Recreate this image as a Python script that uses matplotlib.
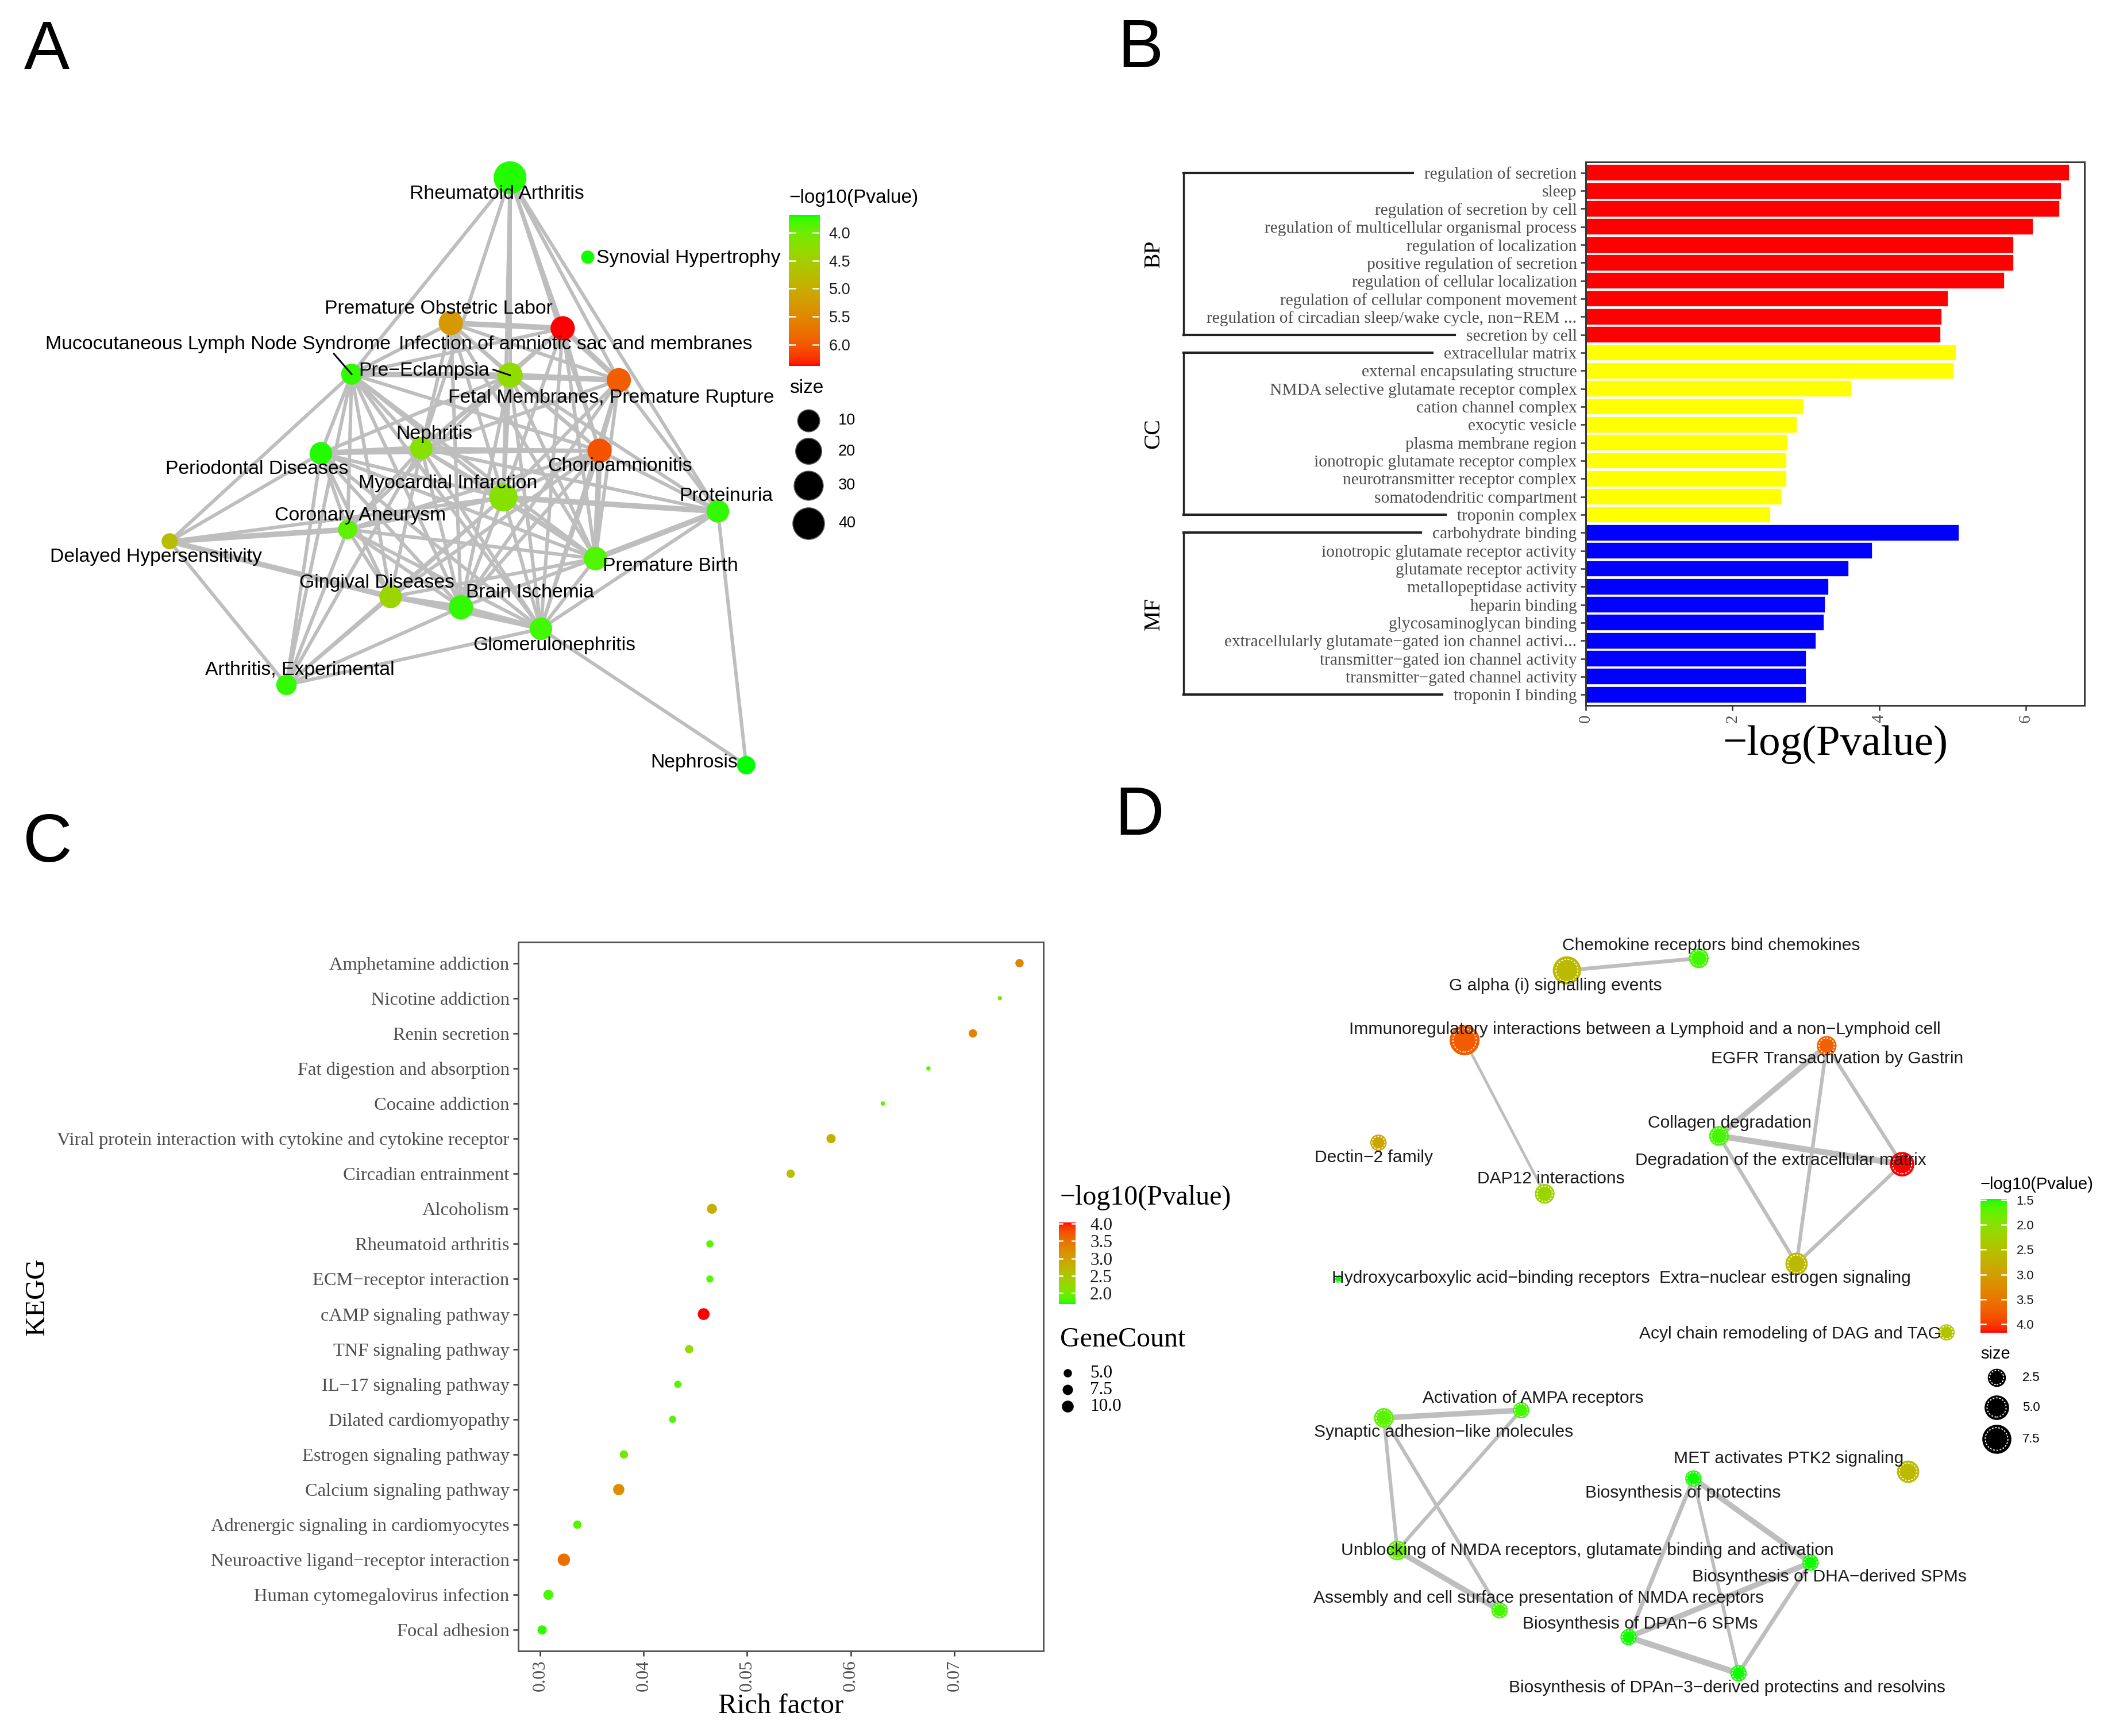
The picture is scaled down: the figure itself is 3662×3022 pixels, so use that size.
import numpy as np
import matplotlib
matplotlib.use("Agg")
import matplotlib.pyplot as plt
from matplotlib.colors import ListedColormap
from matplotlib.lines import Line2D

# ---------------------------------------------------------------- data
# Panel A : disease network
A_nodes = ["Rheumatoid Arthritis", "Synovial Hypertrophy", "Premature Obstetric Labor",
           "Infection of amniotic sac and membranes", "Mucocutaneous Lymph Node Syndrome",
           "Pre\u2212Eclampsia", "Fetal Membranes, Premature Rupture", "Periodontal Diseases",
           "Nephritis", "Chorioamnionitis", "Myocardial Infarction", "Proteinuria",
           "Coronary Aneurysm", "Delayed Hypersensitivity", "Premature Birth",
           "Gingival Diseases", "Brain Ischemia", "Glomerulonephritis",
           "Arthritis, Experimental", "Nephrosis"]
A_x = [378.9, 436.6, 334.9, 418.0, 261.2, 378.9, 459.7, 238.4, 313.0, 445.4,
       374.0, 533.3, 258.2, 126.0, 442.4, 290.2, 342.4, 401.8, 212.8, 554.3]
A_y = [132.0, 191.0, 240.0, 243.9, 278.0, 278.8, 282.5, 336.8, 333.0, 334.9,
       369.5, 379.9, 393.4, 402.2, 415.0, 443.5, 451.2, 467.2, 508.9, 568.5]
A_label_x = [369, 511.5, 326, 427.6, 161.8, 315, 454, 191, 322.5, 460.4,
             332.6, 539.3, 267.6, 115.9, 498, 280, 393.9, 411.6, 222.6, 515.6]
A_label_y = [144.2, 192, 229.4, 256, 256, 275.5, 295.4, 348.4, 322.3, 346.4,
             359, 368.4, 383, 414, 420.7, 433, 440.2, 479.5, 497.9, 566.8]
A_logp = [3.72, 3.70, 5.30, 6.38, 3.75, 4.30, 5.95, 3.72, 4.20, 6.05,
          4.20, 3.75, 3.92, 4.75, 3.85, 4.40, 3.75, 3.80, 3.75, 3.69]
A_size = [45, 1, 15, 15, 8, 18, 15, 11, 11, 15, 27, 11, 5, 2, 13, 11, 15, 11, 7, 4]
A_edges = [  # (i, j, weight)
    (0, 4, 1), (0, 8, 1), (0, 5, 1), (0, 10, 1), (0, 3, 1), (0, 6, 1), (0, 9, 1), (0, 11, 1),
    (2, 3, 2), (2, 5, 1), (2, 6, 1), (2, 4, 1), (2, 8, 1), (2, 9, 1), (2, 10, 1), (2, 14, 1), (2, 16, 1),
    (3, 6, 2), (3, 9, 1), (3, 5, 1), (3, 8, 1), (3, 10, 1), (3, 14, 1), (3, 4, 1), (3, 17, 1),
    (4, 5, 2), (4, 7, 1), (4, 12, 1), (4, 8, 1), (4, 10, 1), (4, 13, 1), (4, 18, 1), (4, 15, 1),
    (4, 16, 1), (4, 17, 1), (4, 9, 1), (4, 14, 1), (4, 6, 1),
    (5, 6, 2), (5, 8, 1), (5, 9, 1), (5, 10, 1), (5, 14, 1), (5, 17, 1), (5, 7, 1), (5, 12, 1),
    (5, 16, 1), (5, 11, 1),
    (6, 9, 1), (6, 10, 1), (6, 14, 1), (6, 11, 1), (6, 8, 1), (6, 17, 1), (6, 16, 1),
    (8, 7, 2), (8, 9, 1), (8, 10, 1), (8, 12, 1), (8, 15, 1), (8, 16, 1), (8, 17, 1), (8, 14, 1),
    (8, 11, 1), (8, 18, 1),
    (7, 12, 1), (7, 15, 1), (7, 16, 1), (7, 10, 1), (7, 13, 1), (7, 18, 1), (7, 9, 1), (7, 17, 1), (7, 14, 1),
    (9, 10, 1), (9, 14, 2), (9, 11, 1), (9, 17, 1), (9, 16, 1), (9, 12, 1), (9, 15, 1),
    (10, 12, 1), (10, 11, 2), (10, 14, 1), (10, 16, 1), (10, 17, 1), (10, 15, 1), (10, 18, 1), (10, 13, 1),
    (11, 14, 2), (11, 17, 1), (11, 19, 1),
    (12, 13, 2), (12, 15, 1), (12, 16, 1), (12, 17, 1), (12, 14, 1), (12, 18, 1),
    (13, 15, 2), (13, 18, 1),
    (14, 16, 1), (14, 17, 1), (14, 15, 1),
    (15, 16, 2), (15, 17, 1), (15, 18, 1),
    (16, 17, 2), (16, 18, 1),
    (17, 18, 1), (17, 19, 1)]
A_pointers = {4: (248.0, 262.8), 5: (366.5, 274.6)}
A_cbar_ticks = [4.0, 4.5, 5.0, 5.5, 6.0]
A_size_legend = [10, 20, 30, 40]

# Panel B : GO enrichment
B_terms = ["regulation of secretion", "sleep", "regulation of secretion by cell",
           "regulation of multicellular organismal process", "regulation of localization",
           "positive regulation of secretion", "regulation of cellular localization",
           "regulation of cellular component movement",
           "regulation of circadian sleep/wake cycle, non\u2212REM ...", "secretion by cell",
           "extracellular matrix", "external encapsulating structure",
           "NMDA selective glutamate receptor complex", "cation channel complex",
           "exocytic vesicle", "plasma membrane region", "ionotropic glutamate receptor complex",
           "neurotransmitter receptor complex", "somatodendritic compartment", "troponin complex",
           "carbohydrate binding", "ionotropic glutamate receptor activity",
           "glutamate receptor activity", "metallopeptidase activity", "heparin binding",
           "glycosaminoglycan binding", "extracellularly glutamate\u2212gated ion channel activi...",
           "transmitter\u2212gated ion channel activity", "transmitter\u2212gated channel activity",
           "troponin I binding"]
B_values = [6.60, 6.49, 6.46, 6.10, 5.84, 5.84, 5.71, 4.94, 4.86, 4.84,
            5.05, 5.02, 3.63, 2.98, 2.88, 2.76, 2.74, 2.74, 2.67, 2.52,
            5.09, 3.91, 3.59, 3.31, 3.27, 3.25, 3.14, 3.01, 3.01, 3.01]
B_group = ["BP"] * 10 + ["CC"] * 10 + ["MF"] * 10
B_group_names = ["BP", "CC", "MF"]
B_group_colors = {"BP": "#FF0000", "CC": "#FFFF00", "MF": "#0000FF"}
B_xticks = [0, 2, 4, 6]

# Panel C : KEGG dot plot
C_terms = ["Amphetamine addiction", "Nicotine addiction", "Renin secretion",
           "Fat digestion and absorption", "Cocaine addiction",
           "Viral protein interaction with cytokine and cytokine receptor",
           "Circadian entrainment", "Alcoholism", "Rheumatoid arthritis",
           "ECM\u2212receptor interaction", "cAMP signaling pathway", "TNF signaling pathway",
           "IL\u221217 signaling pathway", "Dilated cardiomyopathy", "Estrogen signaling pathway",
           "Calcium signaling pathway", "Adrenergic signaling in cardiomyocytes",
           "Neuroactive ligand\u2212receptor interaction", "Human cytomegalovirus infection",
           "Focal adhesion"]
C_rich = [0.0763, 0.0744, 0.0718, 0.0675, 0.0631, 0.0581, 0.0542, 0.0466, 0.0464, 0.0464,
          0.0458, 0.0444, 0.0433, 0.0428, 0.0381, 0.0376, 0.0336, 0.0323, 0.0308, 0.0302]
C_count = [5, 3, 5, 3, 3, 6, 5, 7, 4, 4, 10, 5, 4, 4, 5, 9, 5, 11, 7, 6]
C_logp = [3.30, 2.00, 3.30, 1.85, 1.85, 2.80, 2.60, 2.80, 1.85, 1.85,
          4.03, 2.25, 1.85, 1.85, 2.00, 3.20, 1.85, 3.50, 1.80, 1.75]
C_xticks = [0.03, 0.04, 0.05, 0.06, 0.07]
C_cbar_ticks = [2.0, 2.5, 3.0, 3.5, 4.0]
C_size_legend = [5.0, 7.5, 10.0]

# Panel D : Reactome network
D_nodes = ["G alpha (i) signalling events", "Chemokine receptors bind chemokines",
           "Immunoregulatory interactions between a Lymphoid and a non\u2212Lymphoid cell",
           "EGFR Transactivation by Gastrin", "Collagen degradation",
           "Degradation of the extracellular matrix", "Dectin\u22122 family", "DAP12 interactions",
           "Hydroxycarboxylic acid\u2212binding receptors", "Extra\u2212nuclear estrogen signaling",
           "Acyl chain remodeling of DAG and TAG", "Activation of AMPA receptors",
           "Synaptic adhesion\u2212like molecules",
           "Unblocking of NMDA receptors, glutamate binding and activation",
           "Assembly and cell surface presentation of NMDA receptors",
           "MET activates PTK2 signaling", "Biosynthesis of protectins",
           "Biosynthesis of DHA\u2212derived SPMs", "Biosynthesis of DPAn\u22126 SPMs",
           "Biosynthesis of DPAn\u22123\u2212derived protectins and resolvins"]
D_x = [1164, 1262, 1088, 1357, 1277, 1413, 1024, 1147.5, 994, 1334.6,
       1446, 1130, 1028, 1038, 1114, 1417.5, 1258, 1345, 1209.8, 1291.5]
D_y = [721, 712, 773, 777, 844, 865, 849, 887, 950, 939,
       990, 1047.8, 1053.5, 1152, 1196.5, 1093.5, 1098.5, 1161, 1216.4, 1243.3]
D_label_x = [1155.5, 1271, 1221.7, 1365, 1285, 1322.7, 1020.5, 1152, 1107.6, 1326,
             1330, 1139, 1072.6, 1179, 1143, 1328.6, 1250.3, 1359, 1218.3, 1283]
D_label_y = [732.5, 702.5, 765, 786.6, 834.4, 862, 860, 876, 949.7, 949.7,
             991, 1038.7, 1064.2, 1152, 1187.4, 1083.7, 1109.2, 1171.6, 1206.6, 1254]
D_logp = [2.60, 1.60, 3.75, 3.70, 1.60, 4.17, 2.90, 2.20, 1.48, 2.60,
          2.45, 1.60, 1.70, 1.75, 1.60, 2.60, 1.50, 1.50, 1.50, 1.50]
D_size = [7, 3, 8, 3, 3, 5, 2, 3, 1, 4, 2, 2, 3, 3, 2, 4, 2, 2, 2, 2]
D_edges = [(0, 1, 1.4), (2, 7, 1.0),
           (3, 4, 2.0), (3, 5, 1.3), (3, 9, 1.3), (4, 5, 2.2), (4, 9, 1.3), (5, 9, 1.3),
           (12, 11, 2.0), (12, 13, 1.3), (12, 14, 1.3), (11, 13, 1.3), (13, 14, 2.0),
           (16, 17, 2.0), (16, 18, 1.5), (16, 19, 1.2), (17, 18, 2.0), (17, 19, 1.5), (18, 19, 2.2)]
D_cbar_ticks = [1.5, 2.0, 2.5, 3.0, 3.5, 4.0]
D_size_legend = [2.5, 5.0, 7.5]

# ---------------------------------------------------------------- helpers
W, H, DPI = 3662, 3022, 300
S = 3662 / 1563.0          # layout unit -> pixel
LW_, LH_ = W / S, H / S

M = np.array([[0.4124564, 0.3575761, 0.1804375],
              [0.2126729, 0.7151522, 0.0721750],
              [0.0193339, 0.1191920, 0.9503041]])
WHITE = np.array([0.95047, 1.0, 1.08883])


def _lin(c):
    c = np.asarray(c, float)
    return np.where(c <= 0.04045, c / 12.92, ((c + 0.055) / 1.055) ** 2.4)


def _gam(c):
    c = np.clip(c, 0, None)
    return np.where(c <= 0.0031308, 12.92 * c, 1.055 * np.power(c, 1 / 2.4) - 0.055)


def rgb2lab(rgb):
    xyz = M @ _lin(rgb) / WHITE
    d = 6 / 29
    f = np.where(xyz > d ** 3, np.cbrt(xyz), xyz / (3 * d * d) + 4 / 29)
    return np.array([116 * f[1] - 16, 500 * (f[0] - f[1]), 200 * (f[1] - f[2])])


def lab2rgb(lab):
    L, a, b = lab
    fy = (L + 16) / 116
    f = np.array([fy + a / 500, fy, fy - b / 200])
    d = 6 / 29
    xyz = np.where(f > d, f ** 3, 3 * d * d * (f - 4 / 29)) * WHITE
    return np.clip(_gam(np.linalg.solve(M, xyz)), 0, 1)


def lab_cmap(c1, c2, n=256):
    l1, l2 = rgb2lab(c1), rgb2lab(c2)
    return ListedColormap([lab2rgb(l1 + (l2 - l1) * t) for t in np.linspace(0, 1, n)])


CMAP = lab_cmap((0, 1, 0), (1, 0, 0))


def pt2(dpx):
    return (np.asarray(dpx, float) * 72.0 / DPI) ** 2


def diam_A(s):
    return 23 + 34 * np.sqrt((np.asarray(s, float) - 1) / 44.0)


def diam_C(c):
    return 7.5 + 14 * np.sqrt((np.asarray(c, float) - 3) / 8.0)


def diam_D(s):
    return 14 + 38 * np.sqrt((np.asarray(s, float) - 1) / 7.0)


SANS = ["Liberation Sans", "DejaVu Sans"]
SERIF = ["Liberation Serif", "DejaVu Serif"]
GREY30 = "#4D4D4D"

fig = plt.figure(figsize=(W / DPI, H / DPI), dpi=DPI)

# overlay axes in layout units (used for networks, legends, letters)
ax = fig.add_axes([0, 0, 1, 1])
ax.set_xlim(0, LW_)
ax.set_ylim(LH_, 0)
ax.axis("off")


def colorbar(rect_px, vmin, vmax, ticks, invert, fs, family, pad):
    x0, y0, x1, y1 = rect_px
    cax = fig.add_axes([x0 / W, 1 - y1 / H, (x1 - x0) / W, (y1 - y0) / H])
    grad = np.linspace(vmin, vmax, 256).reshape(-1, 1)
    cax.imshow(grad, aspect="auto", cmap=CMAP, vmin=vmin, vmax=vmax,
               extent=(0, 1, vmin, vmax), origin="lower")
    cax.set_xlim(0, 1)
    cax.set_ylim((vmax, vmin) if invert else (vmin, vmax))
    for t in ticks:
        cax.plot([0, 0.2], [t, t], color="white", lw=0.6)
        cax.plot([0.8, 1], [t, t], color="white", lw=0.6)
    cax.set_xticks([])
    cax.yaxis.tick_right()
    cax.set_yticks(ticks)
    cax.set_yticklabels([f"{t:.1f}" for t in ticks], fontsize=fs, family=family, color="#1a1a1a")
    cax.tick_params(length=0, pad=pad)
    for sp in cax.spines.values():
        sp.set_visible(False)
    return cax


# ---------------------------------------------------------------- Panel A
for i, j, w in A_edges:
    ax.plot([A_x[i], A_x[j]], [A_y[i], A_y[j]], color="#BEBEBE", lw=0.6 + 0.85 * w,
            solid_capstyle="round", zorder=1)
ax.scatter(A_x, A_y, s=pt2(diam_A(A_size)), c=A_logp, cmap=CMAP, vmin=3.685, vmax=6.38,
           linewidths=0, zorder=2)
for k, (lx, ly) in A_pointers.items():
    ax.plot([lx, A_x[k]], [ly, A_y[k]], color="black", lw=0.7, zorder=3)
for name, lx, ly in zip(A_nodes, A_label_x, A_label_y):
    ax.text(lx, ly, name, ha="center", va="center", fontsize=8.1, family=SANS,
            color="black", zorder=4)

colorbar((1373, 374, 1426, 637), 3.685, 6.38, A_cbar_ticks, True, 6.5, SANS, 4)
ax.text(1373 / S, 345 / S, "\u2212log10(Pvalue)", ha="left", va="center", fontsize=8,
        family=SANS)
ax.text(1374 / S, 676 / S, "size", ha="left", va="center", fontsize=8, family=SANS)
for v, yy in zip(A_size_legend, [732, 785.5, 844.7, 910.8]):
    ax.scatter([1407 / S], [yy / S], s=pt2(diam_A(v)), color="black", edgecolors="#555555",
               linewidths=0.4, zorder=2)
    ax.text(1459 / S, yy / S, f"{v}", ha="left", va="center", fontsize=6.5, family=SANS)

# ---------------------------------------------------------------- Panel B
axB = fig.add_axes([2760 / W, 1 - 1228 / H, (3628 - 2760) / W, (1228 - 282) / H])
yB = np.arange(len(B_terms))
axB.barh(yB, B_values, height=0.92, color=[B_group_colors[g] for g in B_group],
         edgecolor="white", linewidth=0.4)
axB.set_ylim(len(B_terms) - 0.4, -0.6)
axB.set_xlim(0, 6.8)
axB.set_yticks(yB)
axB.set_yticklabels(B_terms, fontsize=7.1, family=SERIF, color=GREY30)
axB.set_xticks(B_xticks)
axB.set_xticklabels([str(t) for t in B_xticks], fontsize=7, family=SERIF, color=GREY30,
                    rotation=90)
axB.tick_params(length=2.2, width=0.6, color="#333333", pad=1.5)
for sp in axB.spines.values():
    sp.set_color("#333333")
    sp.set_linewidth(0.7)
axB.set_xlabel("\u2212log(Pvalue)", fontsize=18, family=SERIF, labelpad=1)

# ---------------------------------------------------------------- Panel C
axC = fig.add_axes([902 / W, 1 - 2874 / H, (1816 - 902) / W, (2874 - 1640) / H])
yC = np.arange(len(C_terms))
axC.scatter(C_rich, yC, s=pt2(diam_C(C_count)), c=C_logp, cmap=CMAP, vmin=1.69, vmax=4.03,
            linewidths=0, zorder=3)
rng = max(C_rich) - min(C_rich)
axC.set_xlim(min(C_rich) - 0.05 * rng, max(C_rich) + 0.05 * rng)
axC.set_ylim(len(C_terms) - 0.4, -0.6)
axC.set_yticks(yC)
axC.set_yticklabels(C_terms, fontsize=7.8, family=SERIF, color=GREY30)
axC.set_xticks(C_xticks)
axC.set_xticklabels([f"{t:.2f}" for t in C_xticks], fontsize=7.5, family=SERIF,
                    color=GREY30, rotation=90)
axC.tick_params(length=2.2, width=0.6, color="#333333", pad=1.5)
for sp in axC.spines.values():
    sp.set_color("#555555")
    sp.set_linewidth(0.7)
axC.set_xlabel("Rich factor", fontsize=11.7, family=SERIF, labelpad=1)
axC.set_ylabel("KEGG", fontsize=11.7, family=SERIF, labelpad=3)

colorbar((1843, 2128, 1872, 2270), 1.69, 4.03, C_cbar_ticks, False, 7.5, SERIF, 6)
ax.text(1845 / S, 2085 / S, "\u2212log10(Pvalue)", ha="left", va="center", fontsize=11.5,
        family=SERIF)
ax.text(1845 / S, 2332 / S, "GeneCount", ha="left", va="center", fontsize=11.5,
        family=SERIF)
for v, yy in zip(C_size_legend, [2390, 2419, 2448]):
    ax.scatter([1858 / S], [yy / S], s=pt2(diam_C(v)), color="black", linewidths=0, zorder=2)
    ax.text(1897 / S, yy / S, f"{v:.1f}", ha="left", va="center", fontsize=7.5, family=SERIF)

# ---------------------------------------------------------------- Panel D
for i, j, w in D_edges:
    ax.plot([D_x[i], D_x[j]], [D_y[i], D_y[j]], color="#BEBEBE", lw=1.15 * w,
            solid_capstyle="round", zorder=1)
dD = diam_D(D_size)
ax.scatter(D_x, D_y, s=pt2(dD), c=D_logp, cmap=CMAP, vmin=1.48, vmax=4.17,
           linewidths=0, zorder=2)
ax.scatter(D_x, D_y, s=pt2(dD * 0.78), facecolors="none", edgecolors="white",
           linewidths=0.45, linestyles=(0, (1.5, 1.5)), zorder=2.5)
for name, lx, ly in zip(D_nodes, D_label_x, D_label_y):
    ax.text(lx, ly, name, ha="center", va="center", fontsize=7.2, family=SANS,
            color="#1a1a1a", zorder=4)

colorbar((3447, 2087, 3493, 2320), 1.48, 4.17, D_cbar_ticks, True, 5.3, SANS, 4)
ax.text(3447 / S, 2062 / S, "\u2212log10(Pvalue)", ha="left", va="center", fontsize=7,
        family=SANS)
ax.text(3447 / S, 2357 / S, "size", ha="left", va="center", fontsize=7, family=SANS)
for v, yy in zip(D_size_legend, [2398, 2450, 2505]):
    d = diam_D(v)
    ax.scatter([3475 / S], [yy / S], s=pt2(d), color="black", linewidths=0, zorder=2)
    ax.scatter([3475 / S], [yy / S], s=pt2(d * 0.78), facecolors="none", edgecolors="white",
               linewidths=0.45, linestyles=(0, (1.5, 1.5)), zorder=2.5)
    ax.text(3520 / S, yy / S, f"{v:.1f}", ha="left", va="center", fontsize=5.3, family=SANS)

# ---------------------------------------------------------------- panel letters
for letter, lx, by in [("A", 42, 120), ("B", 1945, 117), ("C", 40, 1500), ("D", 1940, 1453)]:
    ax.text(lx / S, by / S, letter, ha="left", va="baseline", fontsize=28.5, family=SANS)

# ---------------------------------------------------------------- GO brackets (panel B)
fig.canvas.draw()
renderer = fig.canvas.get_renderer()
ticklabels = axB.get_yticklabels()
bracket_x = 2060
for g in B_group_names:
    idx = [k for k, gg in enumerate(B_group) if gg == g]
    i0, i1 = idx[0], idx[-1]
    ys = []
    for i in (i0, i1):
        bb = ticklabels[i].get_window_extent(renderer)
        ypix = axB.transData.transform((0, i))[1]
        ys.append(ypix)
        fig.add_artist(Line2D([bracket_x / W, (bb.x0 - 20) / W], [ypix / H, ypix / H],
                              transform=fig.transFigure, color="#222222", lw=1.0))
    fig.add_artist(Line2D([bracket_x / W, bracket_x / W], [ys[0] / H, ys[1] / H],
                          transform=fig.transFigure, color="#222222", lw=0.8))
    fig.text(2008 / W, (ys[0] + ys[1]) / 2 / H, g, rotation=90, ha="center", va="center",
             fontsize=9.5, family=SERIF)

fig.savefig("out.png", dpi=DPI)
